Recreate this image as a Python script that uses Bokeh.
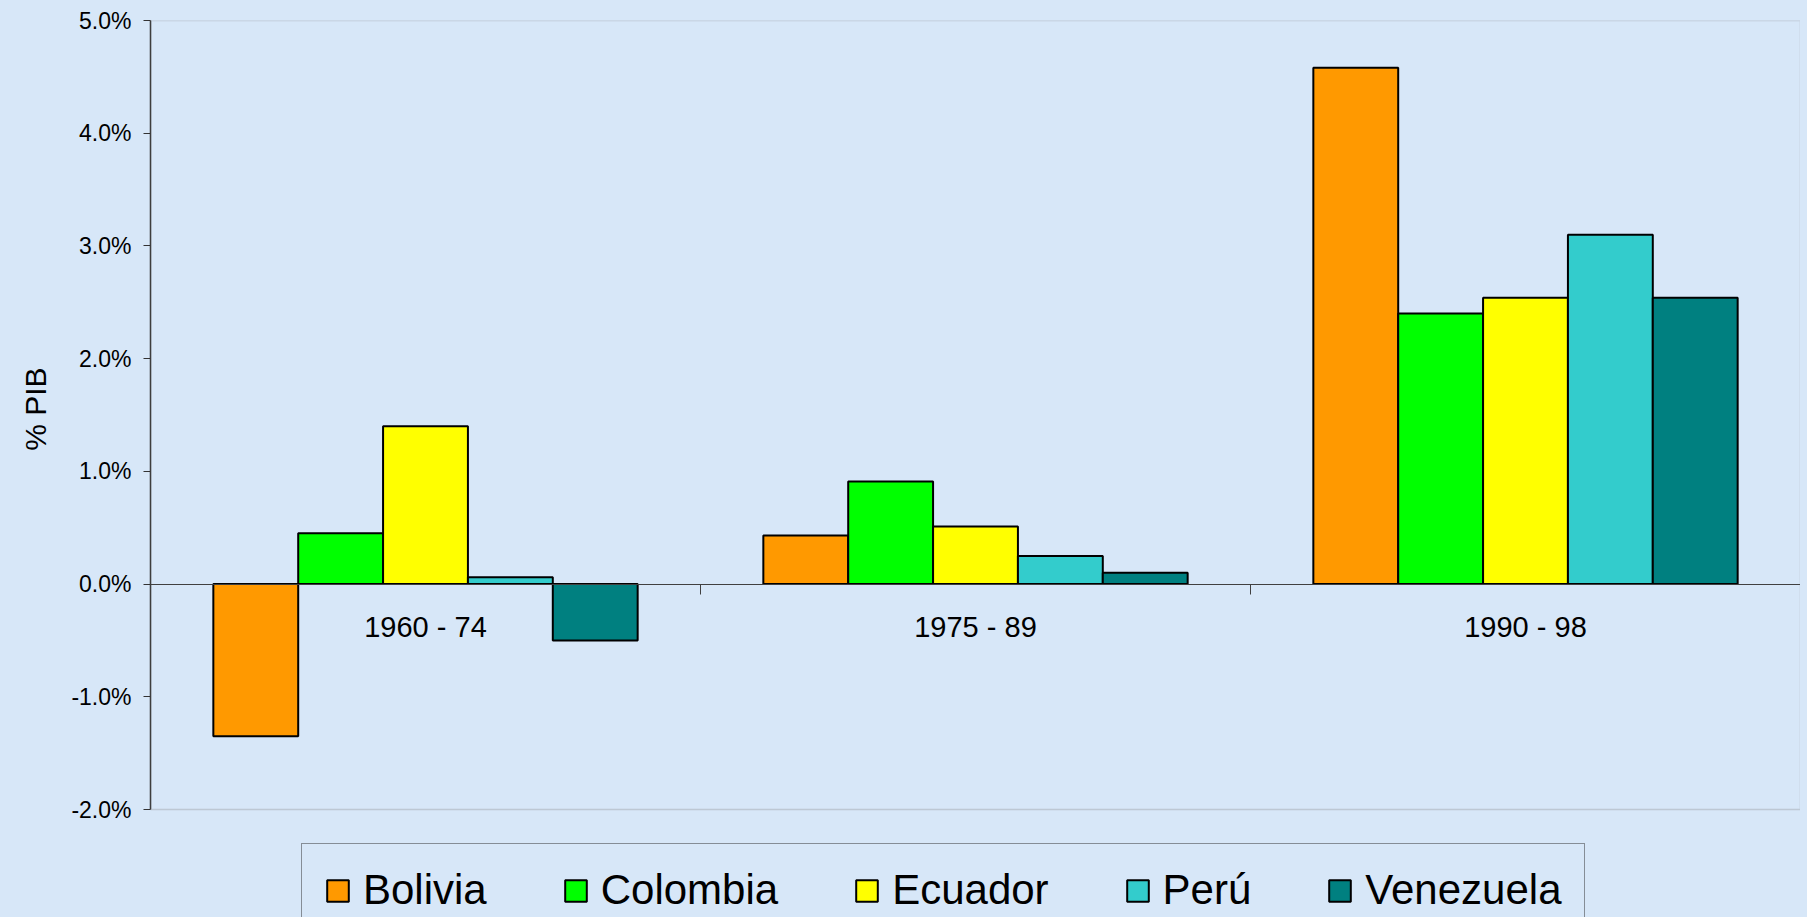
from bokeh.plotting import figure
from bokeh.models import (ColumnDataSource, Range1d, FixedTicker, BoxAnnotation,
                          NumeralTickFormatter, Legend, LegendItem, Title,
                          GlobalInlineStyleSheet)
from bokeh.core.properties import value
from bokeh.transform import dodge
from bokeh.embed import file_html
from bokeh.resources import INLINE

# ---- data (percent of GDP) ----
periods = ["1960 - 74", "1975 - 89", "1990 - 98"]
countries = ["Bolivia", "Colombia", "Ecuador", "Perú", "Venezuela"]
bolivia = [-1.35, 0.43, 4.58]
colombia = [0.45, 0.91, 2.40]
ecuador = [1.40, 0.51, 2.54]
peru = [0.06, 0.25, 3.10]
venezuela = [-0.50, 0.10, 2.54]
y_ticks_pct = [-2, -1, 0, 1, 2, 3, 4, 5]
y_title = "% PIB"

series = [bolivia, colombia, ecuador, peru, venezuela]
colors = ["#FF9900", "#00FF00", "#FFFF00", "#33CCCC", "#008080"]

BG = "#D7E7F8"
FONT = "Liberation Sans"

n = len(periods)
centers = [i + 0.5 for i in range(n)]
y_lo = y_ticks_pct[0] / 100
y_hi = y_ticks_pct[-1] / 100
# frame extends below the plot area so the legend can sit inside it
extra = (y_hi - y_lo) * 108.0 / 789.0

p = figure(width=1800, height=917,
           x_range=Range1d(0, n),
           y_range=Range1d(y_lo - extra, y_hi),
           output_backend="svg", toolbar_location=None,
           min_border_left=149, min_border_right=0,
           min_border_top=20, min_border_bottom=0)
p.background_fill_color = BG
p.border_fill_color = BG
p.outline_line_color = None
p.grid.visible = False
p.stylesheets = [GlobalInlineStyleSheet(css="body { background-color: %s; }" % BG)]

# plot-area border
p.add_layout(BoxAnnotation(left=0, right=n, bottom=y_lo, top=y_hi,
                           fill_alpha=0, line_color="#808080", line_width=1.5))

data = dict(xc=centers, period=periods)
for j, s in enumerate(series):
    data["s%d" % j] = [v / 100 for v in s]
src = ColumnDataSource(data)

bar_w = 0.1543
items = []
for j, (name, col) in enumerate(zip(countries, colors)):
    r = p.vbar(x=dodge("xc", (j - 2) * bar_w), top="s%d" % j, bottom=0,
               width=bar_w, source=src, fill_color=col, line_color="black", line_width=2)
    items.append(LegendItem(label=name, renderers=[r]))

# category labels under the zero line
p.text(x="xc", y=0, text="period", source=src, y_offset=27,
       text_align="center", text_baseline="top",
       text_font=value(FONT), text_font_size="29px", text_color="black")

# zero line with ticks at category boundaries (axis in the top panel,
# drawn at y = 0, ticks pointing downward)
xa = p.xaxis[0]
p.below.remove(xa)
p.add_layout(xa, "above")
xa.fixed_location = 0
xa.ticker = FixedTicker(ticks=[], minor_ticks=list(range(n + 1)))
xa.major_label_standoff = 0
xa.axis_line_color = "#404040"
xa.axis_line_width = 1
xa.major_tick_line_color = None
xa.major_tick_out = 0
xa.major_tick_in = 0
xa.minor_tick_line_color = "#404040"
xa.minor_tick_out = 0
xa.minor_tick_in = 10

# y axis
ya = p.yaxis[0]
ya.bounds = (y_lo, y_hi)
ya.ticker = FixedTicker(ticks=[t / 100 for t in y_ticks_pct])
ya.formatter = NumeralTickFormatter(format="0.0%")
ya.major_label_text_font = FONT
ya.major_label_text_font_size = "23px"
ya.major_label_text_color = "black"
ya.major_label_standoff = 12
ya.major_tick_out = 7
ya.major_tick_in = 0
ya.major_tick_line_color = "#333333"
ya.minor_tick_line_color = None
ya.axis_line_color = "#333333"
ya.axis_line_width = 1.5

# y title, placed beside the plot area (not the extended frame)
p.add_layout(Title(text=y_title, align="right", offset=347, standoff=33,
                   text_font=FONT, text_font_size="30px", text_font_style="normal",
                   text_color="black"), "left")

legend = Legend(items=items, orientation="horizontal", location=(151, -20),
                label_text_font=FONT, label_text_font_size="42px", label_text_color="black",
                glyph_width=27, glyph_height=27, label_standoff=12, spacing=75,
                padding=22, margin=0,
                border_line_color="#333333", border_line_width=1,
                background_fill_alpha=0)
p.add_layout(legend, "center")

open("out.html", "w").write(file_html(p, INLINE))
